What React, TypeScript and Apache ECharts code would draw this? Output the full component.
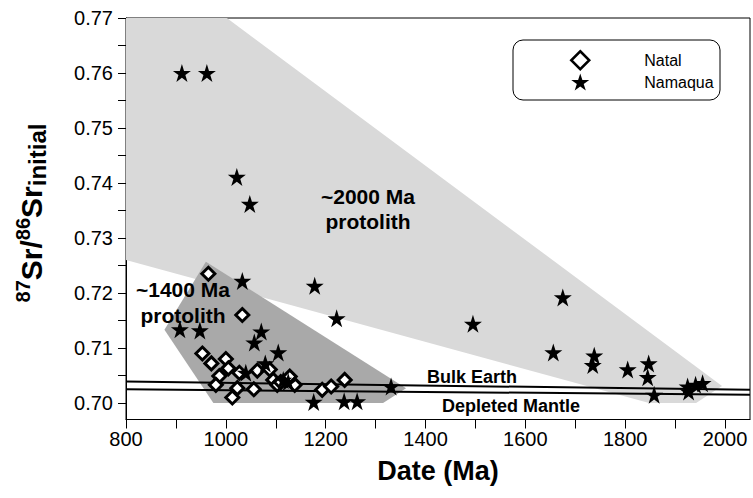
import React, { useEffect, useRef } from "react";
import * as echarts from "echarts";

// ---- data ----
const natal: number[][] = [
  [965, 0.7235], [1033, 0.716], [953, 0.709], [971, 0.7072], [1000, 0.708],
  [1005, 0.7063], [987, 0.7049], [1027, 0.7055], [980, 0.7033], [1023, 0.7027],
  [1013, 0.701], [1063, 0.7059], [1056, 0.7025], [1088, 0.7061], [1095, 0.7042],
  [1103, 0.7033], [1128, 0.7048], [1138, 0.7033], [1193, 0.7024], [1211, 0.703],
  [1238, 0.7042], [1110, 0.7038],
];

const namaqua: number[][] = [
  [912, 0.76], [962, 0.76], [1022, 0.7411], [1048, 0.7362], [1033, 0.7222],
  [1178, 0.7213], [1222, 0.7154], [1495, 0.7144], [1675, 0.7192], [1656, 0.7092],
  [1738, 0.7086], [1735, 0.7069], [1805, 0.7061], [1847, 0.7072], [1845, 0.7047],
  [1858, 0.7015], [1925, 0.703], [1927, 0.7021], [1941, 0.7033], [1955, 0.7036],
  [908, 0.7134], [948, 0.7132], [1071, 0.713], [1057, 0.711], [1105, 0.7092],
  [1079, 0.7072], [1040, 0.7055], [1115, 0.7042], [1125, 0.7038], [1176, 0.7002],
  [1237, 0.7003], [1263, 0.7003], [1331, 0.703],
];

const bulkEarth: number[][] = [[800, 0.7039], [2050, 0.7024]];
const depletedMantle: number[][] = [[800, 0.7025], [2050, 0.7015]];

const protolith2000: number[][] = [
  [800, 0.77], [1002, 0.77], [1994, 0.7031], [1942, 0.7], [1848, 0.7], [800, 0.726],
];
const protolith1400: number[][] = [
  [960, 0.7257], [1361, 0.7027], [1315, 0.7], [975, 0.7], [877, 0.7133],
];

const yTickValues = [0.7, 0.705, 0.71, 0.715, 0.72, 0.725, 0.73, 0.735, 0.74, 0.745, 0.75, 0.755, 0.76, 0.765, 0.77];
const yLabelValues = [0.7, 0.71, 0.72, 0.73, 0.74, 0.75, 0.76, 0.77];

const STAR =
  "path://M50 0 L61.23 34.55 L97.55 34.55 L68.17 55.9 L79.39 90.45 L50 69.1 L20.61 90.45 L31.83 55.9 L2.45 34.55 L38.77 34.55 Z";

const FONT = "'Liberation Sans', Arial, sans-serif";

function polygonSeries(points: number[][], fill: string) {
  return {
    type: "custom",
    silent: true,
    z: 1,
    data: [0],
    renderItem: (_params: any, api: any) => ({
      type: "polygon",
      shape: { points: points.map((p) => api.coord(p)) },
      style: { fill },
    }),
  };
}

export default function App() {
  const ref = useRef<HTMLDivElement>(null);
  useEffect(() => {
    if (!ref.current) return;
    const chart = echarts.init(ref.current, undefined, { renderer: "svg" });
    chart.setOption({
      animation: false,
      backgroundColor: "#fff",
      textStyle: { fontFamily: FONT },
      grid: {
        left: 126, right: 3, top: 18, bottom: 78.5,
        show: true, borderColor: "#000", borderWidth: 1,
      },
      legend: {
        data: [
          { name: "Natal", itemStyle: { borderWidth: 2.5, opacity: 1 } },
          { name: "Namaqua", itemStyle: { opacity: 1 } },
        ],
        orient: "vertical",
        left: 570,
        top: 50,
        padding: 0,
        itemWidth: 18,
        itemHeight: 18,
        itemGap: 3,
        textStyle: { fontFamily: FONT, fontSize: 16, color: "#000", padding: [0, 0, 0, 50] },
      },
      xAxis: {
        type: "value",
        min: 800,
        max: 2050,
        interval: 100,
        axisLine: { lineStyle: { color: "#000", width: 1 } },
        axisTick: { length: 9, lineStyle: { color: "#000" } },
        axisLabel: {
          margin: 9,
          fontSize: 20,
          color: "#000",
          fontFamily: FONT,
          showMaxLabel: false,
          formatter: (v: number) => (v % 200 === 0 ? String(v) : ""),
        },
        splitLine: { show: false },
      },
      yAxis: {
        type: "value",
        min: 0.697,
        max: 0.77,
        axisLine: { lineStyle: { color: "#000", width: 1 } },
        axisTick: { length: 8, lineStyle: { color: "#000" }, customValues: yTickValues },
        axisLabel: {
          margin: 13,
          fontSize: 20,
          color: "#000",
          fontFamily: FONT,
          customValues: yLabelValues,
          formatter: (v: number) => v.toFixed(2),
        },
        splitLine: { show: false },
      },
      graphic: [
        {
          type: "rect",
          z: 0,
          shape: { x: 513, y: 40, width: 207, height: 60, r: 10 },
          style: { fill: "#fff", stroke: "#000", lineWidth: 1 },
        },
        {
          type: "text", z: 10, x: 368, y: 209,
          style: {
            text: "~2000 Ma\nprotolith", fill: "#000", font: `bold 21px ${FONT}`,
            align: "center", verticalAlign: "middle", lineHeight: 25,
          },
        },
        {
          type: "text", z: 10, x: 183, y: 302,
          style: {
            text: "~1400 Ma\nprotolith", fill: "#000", font: `bold 21px ${FONT}`,
            align: "center", verticalAlign: "middle", lineHeight: 26,
          },
        },
        {
          type: "text", z: 10, x: 472, y: 377,
          style: { text: "Bulk Earth", fill: "#000", font: `bold 18px ${FONT}`, align: "center", verticalAlign: "middle" },
        },
        {
          type: "text", z: 10, x: 511, y: 406,
          style: { text: "Depleted Mantle", fill: "#000", font: `bold 18px ${FONT}`, align: "center", verticalAlign: "middle" },
        },
        {
          type: "text", z: 10, x: 438, y: 471,
          style: { text: "Date (Ma)", fill: "#000", font: `bold 27px ${FONT}`, align: "center", verticalAlign: "middle" },
        },
        {
          type: "text", z: 10, x: 31, y: 213, rotation: Math.PI / 2,
          style: {
            text: "{a|87}{b|Sr/}{a|86}{b|Sr}{c|initial}",
            align: "center",
            verticalAlign: "middle",
            fill: "#000",
            rich: {
              a: { fontFamily: FONT, fontWeight: "bold", fontSize: 20, lineHeight: 36, verticalAlign: "top", fill: "#000" },
              b: { fontFamily: FONT, fontWeight: "bold", fontSize: 30, lineHeight: 36, verticalAlign: "middle", fill: "#000" },
              c: { fontFamily: FONT, fontWeight: "bold", fontSize: 24, lineHeight: 36, verticalAlign: "bottom", fill: "#000" },
            },
          },
        },
      ],
      series: [
        polygonSeries(protolith2000, "#d9d9d9"),
        polygonSeries(protolith1400, "#a9a9a9"),
        {
          type: "line", name: "Bulk Earth", data: bulkEarth, symbol: "none", z: 2, silent: true,
          lineStyle: { color: "#000", width: 2 },
        },
        {
          type: "line", name: "Depleted Mantle", data: depletedMantle, symbol: "none", z: 2, silent: true,
          lineStyle: { color: "#000", width: 2 },
        },
        {
          type: "scatter", name: "Natal", data: natal, symbol: "diamond", symbolSize: 13, z: 3,
          itemStyle: { color: "#fff", borderColor: "#000", borderWidth: 3, opacity: 1 },
        },
        {
          type: "scatter", name: "Namaqua", data: namaqua, symbol: STAR, symbolSize: 18, z: 4,
          itemStyle: { color: "#000", opacity: 1 },
        },
      ],
    });
    return () => chart.dispose();
  }, []);
  return (
    <div
      ref={ref}
      style={{ position: "absolute", left: 0, top: 0, width: 753, height: 498 }}
    />
  );
}
